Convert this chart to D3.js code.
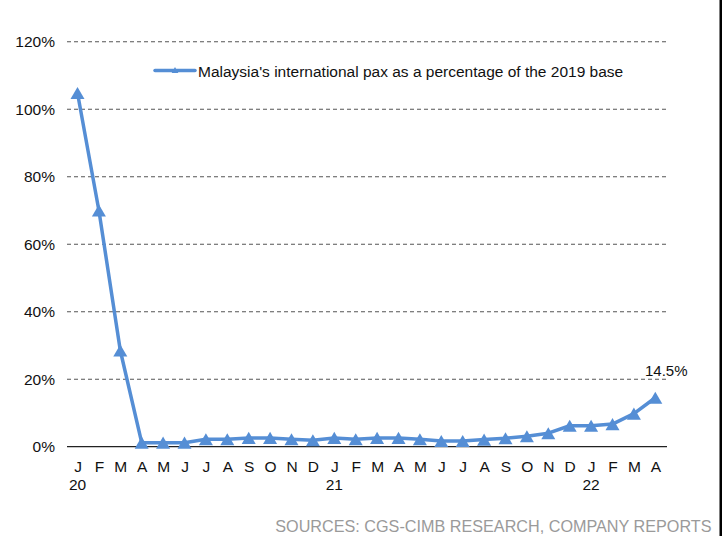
<!DOCTYPE html>
<html>
<head>
<meta charset="utf-8">
<script src="https://cdn.jsdelivr.net/npm/d3@7"></script>
<style>
  body { margin: 0; background: #fff; }
  svg text { font-family: "Liberation Sans", Arial, sans-serif; }
</style>
</head>
<body>
<svg id="chart" width="726" height="536"></svg>
<script>
// Monthly international passengers, % of the same month in 2019 (Jan 2020 – Apr 2022)
const months = ["J","F","M","A","M","J","J","A","S","O","N","D",
                "J","F","M","A","M","J","J","A","S","O","N","D",
                "J","F","M","A"];
const yearLabels = [{ index: 0, label: "20" }, { index: 12, label: "21" }, { index: 24, label: "22" }];
const paxPct = [104.8, 70, 28.5, 1.2, 1.2, 1.2, 2.2, 2.2, 2.6, 2.6, 2.2, 1.9,
                2.6, 2.2, 2.6, 2.6, 2.2, 1.7, 1.7, 2.1, 2.5, 3.1, 4.0, 6.2,
                6.2, 6.7, 9.8, 14.5];
const yTicks = [0, 20, 40, 60, 80, 100, 120];
const seriesName = "Malaysia's international pax as a percentage of the 2019 base";
const lastLabel = "14.5%";
const sourceText = "SOURCES: CGS-CIMB RESEARCH, COMPANY REPORTS";

const blue = "#558ed5";
const fontSize = 15.5;
const svg = d3.select("#chart");

const plot = { left: 67, right: 667, top: 41.7, bottom: 446.7 };

const x = d3.scalePoint()
  .domain(d3.range(months.length))
  .range([77.5, 655.3]);

const y = d3.scaleLinear()
  .domain([0, 120])
  .range([plot.bottom, plot.top]);

// dashed horizontal gridlines
svg.append("g")
  .selectAll("line")
  .data(yTicks.filter(d => d > 0))
  .join("line")
  .attr("x1", plot.left).attr("x2", plot.right)
  .attr("y1", d => y(d)).attr("y2", d => y(d))
  .attr("stroke", "#555").attr("stroke-width", 1.1)
  .attr("stroke-dasharray", "4,3");

// zero baseline
svg.append("line")
  .attr("x1", plot.left).attr("x2", plot.right)
  .attr("y1", y(0)).attr("y2", y(0))
  .attr("stroke", "#222").attr("stroke-width", 1.2);

// y axis labels
const yAxis = d3.axisLeft(y).tickValues(yTicks).tickFormat(d => d + "%").tickSize(0).tickPadding(0);
const gy = svg.append("g").attr("transform", "translate(55,0)").call(yAxis);
gy.select(".domain").remove();
gy.selectAll("text").attr("font-size", fontSize).attr("fill", "#111")
  .attr("font-family", "Liberation Sans, Arial, sans-serif");

// month labels
const xAxis = d3.axisBottom(x).tickFormat(i => months[i]).tickSize(0).tickPadding(0);
const gx = svg.append("g").attr("transform", "translate(0,461)").call(xAxis);
gx.select(".domain").remove();
gx.selectAll("text").attr("font-size", fontSize).attr("fill", "#111")
  .attr("font-family", "Liberation Sans, Arial, sans-serif");

// year labels
svg.append("g")
  .selectAll("text")
  .data(yearLabels)
  .join("text")
  .attr("x", d => x(d.index))
  .attr("y", 490)
  .attr("text-anchor", "middle")
  .attr("font-size", fontSize)
  .attr("fill", "#111")
  .text(d => d.label);

// series line
const line = d3.line()
  .x((d, i) => x(i))
  .y(d => y(d));

svg.append("path")
  .datum(paxPct)
  .attr("d", line)
  .attr("fill", "none")
  .attr("stroke", blue)
  .attr("stroke-width", 3.5)
  .attr("stroke-linejoin", "round");

// triangle markers, bounding box centred on each point
const triSize = 85;
const triSide = Math.sqrt(triSize * 4 / Math.sqrt(3));
const triBoxShift = triSide * Math.sqrt(3) / 12; // centroid -> box centre
const tri = d3.symbol().type(d3.symbolTriangle).size(triSize);
svg.append("g")
  .selectAll("path")
  .data(paxPct)
  .join("path")
  .attr("d", tri)
  .attr("transform", (d, i) => `translate(${x(i)},${y(d) + triBoxShift})`)
  .attr("fill", blue);

// last value label
svg.append("text")
  .attr("x", 645)
  .attr("y", 375.7)
  .attr("font-size", 15)
  .attr("fill", "#111")
  .text(lastLabel);

// legend
const legend = svg.append("g");
legend.append("line")
  .attr("x1", 155).attr("x2", 195)
  .attr("y1", 70.5).attr("y2", 70.5)
  .attr("stroke", blue).attr("stroke-width", 3.5).attr("stroke-linecap", "round");
legend.append("path")
  .attr("d", d3.symbol().type(d3.symbolTriangle).size(20))
  .attr("transform", "translate(175,71)")
  .attr("fill", blue);
legend.append("text")
  .attr("x", 198)
  .attr("y", 76.5)
  .attr("font-size", fontSize)
  .attr("fill", "#111")
  .text(seriesName);

// source note
svg.append("text")
  .attr("x", 711.5)
  .attr("y", 531.5)
  .attr("text-anchor", "end")
  .attr("font-size", 16.2)
  .attr("fill", "#9a9a9a")
  .text(sourceText);

// right edge rule
svg.append("rect")
  .attr("x", 719.5).attr("y", 0)
  .attr("width", 2.5).attr("height", 536)
  .attr("fill", "#000");
</script>
</body>
</html>
